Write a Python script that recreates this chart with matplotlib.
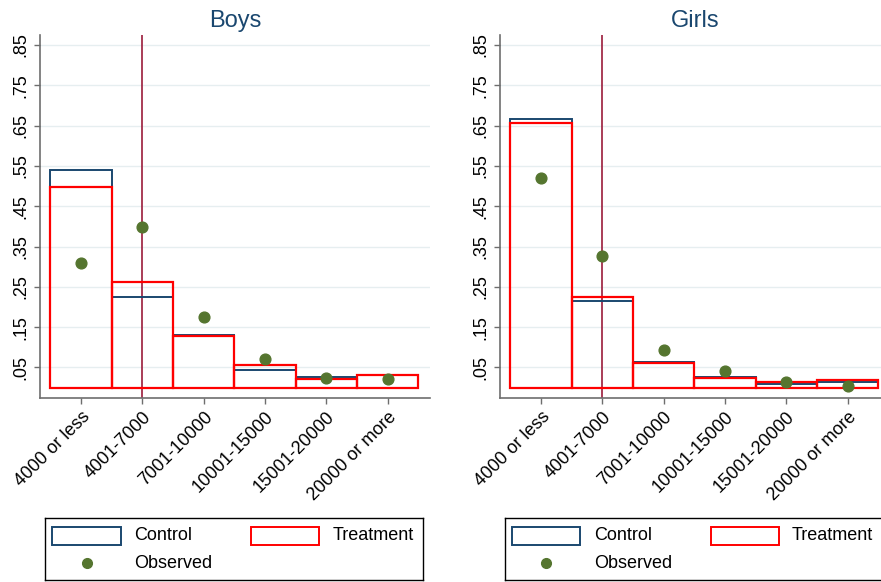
import matplotlib.pyplot as plt
from matplotlib.patches import Rectangle
from matplotlib.lines import Line2D

plt.rcParams['font.family'] = ['Liberation Sans', 'DejaVu Sans']

categories = ["4000 or less", "4001-7000", "7001-10000", "10001-15000", "15001-20000", "20000 or more"]
yticks = [0.05, 0.15, 0.25, 0.35, 0.45, 0.55, 0.65, 0.75, 0.85]
ytick_labels = [".05", ".15", ".25", ".35", ".45", ".55", ".65", ".75", ".85"]

boys_control = [0.541, 0.224, 0.131, 0.044, 0.026, 0.032]
boys_treatment = [0.497, 0.262, 0.128, 0.057, 0.021, 0.032]
boys_observed = [0.310, 0.399, 0.174, 0.071, 0.024, 0.021]

girls_control = [0.667, 0.215, 0.064, 0.026, 0.008, 0.014]
girls_treatment = [0.656, 0.224, 0.062, 0.023, 0.013, 0.018]
girls_observed = [0.521, 0.326, 0.093, 0.042, 0.013, 0.004]

marker_cat = 2  # vertical line at 4001-7000

NAVY = '#1a476f'
RED = '#ff0000'
GREEN = '#55752f'
MAROON = '#9b1b3b'
GRID = '#e6eef0'
AXIS = '#6e6e6e'

fig = plt.figure(figsize=(8.81, 5.82), dpi=100)


def draw_panel(rect, title, control, treatment, observed):
    ax = fig.add_axes(rect)
    x = list(range(1, len(categories) + 1))
    ax.bar(x, control, width=1, bottom=0, fill=False, edgecolor=NAVY, linewidth=1.4, zorder=3)
    ax.bar(x, treatment, width=1, bottom=0, fill=False, edgecolor=RED, linewidth=1.6, zorder=4)
    ax.scatter(x, observed, s=60, color=GREEN, zorder=5)
    ax.axvline(marker_cat, color=MAROON, linewidth=1.2, zorder=2)
    ax.set_xlim(0.33, 6.69)
    ax.set_ylim(-0.026, 0.875)
    ax.set_yticks(yticks)
    ax.set_yticklabels(ytick_labels, rotation=90, va='center', fontsize=13)
    ax.set_xticks(x)
    ax.set_xticklabels(categories, rotation=45, ha='right', rotation_mode='anchor', fontsize=13)
    for y in yticks:
        ax.axhline(y, color=GRID, linewidth=1.0, zorder=1)
    for s in ['top', 'right']:
        ax.spines[s].set_visible(False)
    for s in ['left', 'bottom']:
        ax.spines[s].set_color(AXIS)
        ax.spines[s].set_linewidth(1.2)
    ax.tick_params(axis='both', color=AXIS, length=4, width=1)
    ax.set_title(title, fontsize=17, color=NAVY, pad=6)
    return ax


def draw_legend(rect):
    lg = fig.add_axes(rect)
    lg.set_xlim(0, 1)
    lg.set_ylim(0, 1)
    lg.set_xticks([])
    lg.set_yticks([])
    for s in lg.spines.values():
        s.set_color('black')
        s.set_linewidth(1.0)
    lg.add_patch(Rectangle((0.02, 0.57), 0.18, 0.29, fill=False, edgecolor=NAVY, linewidth=1.4))
    lg.text(0.235, 0.715, "Control", fontsize=13, va='center')
    lg.add_patch(Rectangle((0.545, 0.57), 0.18, 0.29, fill=False, edgecolor=RED, linewidth=1.4))
    lg.text(0.76, 0.715, "Treatment", fontsize=13, va='center')
    lg.add_line(Line2D([0.11], [0.27], marker='o', markersize=7, color=GREEN, linestyle='none'))
    lg.text(0.235, 0.27, "Observed", fontsize=13, va='center')


draw_panel([0.0454, 0.316, 0.4426, 0.624], "Boys", boys_control, boys_treatment, boys_observed)
draw_panel([0.5675, 0.316, 0.4426, 0.624], "Girls", girls_control, girls_treatment, girls_observed)
draw_legend([0.051, 0.004, 0.429, 0.106])
draw_legend([0.573, 0.004, 0.429, 0.106])

fig.savefig('out.png', dpi=100)
